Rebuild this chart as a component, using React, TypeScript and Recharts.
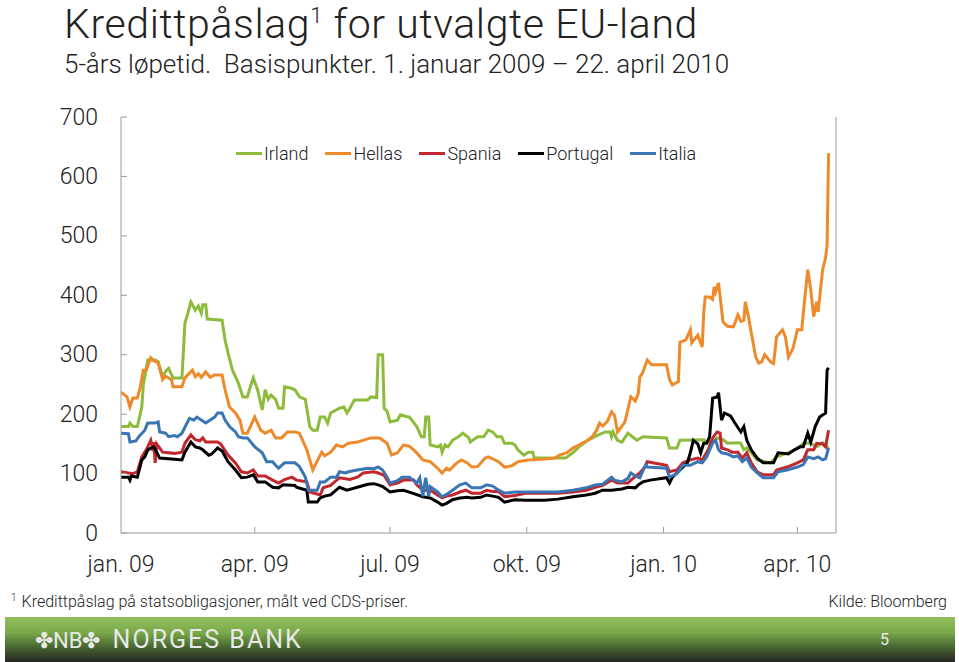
import React from 'react';
import { LineChart, Line, XAxis, YAxis } from 'recharts';

// x = days since 1 Jan 2009, y = basis points
const irland: [number, number][] = [
  [0, 179], [5, 179], [6, 185], [8, 179], [11, 179], [14, 212], [15, 249], [18, 291], [23, 291], [25, 288],
  [28, 263], [30, 272], [32, 277], [35, 261], [41, 261], [43, 353], [45, 370], [47, 389], [50, 375], [52, 382],
  [54, 370], [55, 384], [57, 384], [58, 360], [68, 358], [70, 325], [72, 303], [75, 274], [79, 252], [82, 229],
  [85, 229], [87, 246], [89, 261], [92, 240], [95, 207], [97, 241], [99, 225], [101, 232], [104, 225], [106, 210],
  [109, 210], [110, 246], [114, 244], [117, 241], [120, 229], [124, 225], [127, 179], [129, 173], [132, 173], [134, 195],
  [137, 195], [139, 185], [141, 202], [147, 210], [150, 212], [152, 202], [154, 210], [157, 224], [166, 224], [168, 229],
  [172, 228], [173, 300], [176, 300], [177, 210], [179, 205], [181, 187], [186, 190], [188, 199], [192, 196], [194, 195],
  [199, 179], [202, 162], [204, 162], [205, 195], [207, 195], [208, 148], [213, 145], [215, 148], [216, 136], [218, 148],
  [220, 145], [223, 156], [227, 162], [230, 168], [234, 160], [235, 153], [236, 155], [240, 162], [244, 162], [247, 173],
  [250, 170], [253, 162], [256, 162], [258, 151], [263, 151], [265, 148], [267, 140], [271, 131], [274, 136], [277, 136],
  [278, 126], [299, 126], [304, 135], [308, 145], [314, 156], [321, 165], [326, 170], [329, 170], [330, 162], [331, 170],
  [334, 156], [337, 153], [341, 168], [344, 162], [347, 156], [351, 162], [367, 160], [369, 143], [374, 143], [376, 156],
  [392, 157], [394, 153], [398, 153], [401, 160], [405, 157], [408, 151], [415, 152], [417, 151], [419, 140], [421, 143],
  [424, 135], [428, 123], [437, 118], [441, 128], [450, 136], [455, 142], [459, 151], [464, 151], [468, 145], [472, 152],
  [476, 143],
];

const hellas: [number, number][] = [
  [0, 237], [4, 229], [6, 212], [8, 227], [11, 227], [13, 246], [15, 274], [17, 274], [20, 295], [22, 290],
  [25, 286], [28, 258], [30, 264], [34, 258], [35, 246], [41, 246], [43, 261], [48, 274], [50, 263], [52, 268],
  [54, 262], [57, 271], [60, 262], [63, 266], [68, 266], [70, 241], [73, 212], [77, 202], [80, 190], [82, 168],
  [85, 168], [90, 195], [94, 173], [97, 168], [101, 173], [104, 160], [108, 160], [112, 170], [117, 170], [120, 168],
  [125, 140], [129, 106], [133, 126], [135, 136], [137, 130], [141, 136], [145, 148], [149, 145], [153, 151], [159, 153],
  [168, 160], [174, 160], [179, 151], [182, 131], [186, 135], [190, 148], [194, 146], [199, 135], [203, 123], [208, 120],
  [213, 109], [216, 101], [219, 109], [221, 106], [226, 118], [229, 123], [233, 118], [236, 111], [240, 112], [245, 126],
  [247, 128], [249, 126], [254, 120], [258, 111], [263, 113], [267, 120], [274, 123], [283, 124], [292, 126], [295, 131],
  [300, 135], [304, 143], [308, 148], [314, 156], [317, 162], [320, 173], [322, 185], [324, 180], [327, 187], [330, 204],
  [332, 198], [334, 170], [337, 180], [339, 187], [343, 229], [346, 222], [348, 235], [349, 262], [351, 270], [354, 291],
  [357, 283], [367, 283], [369, 258], [371, 249], [375, 255], [376, 321], [380, 325], [383, 342], [384, 320], [388, 333],
  [391, 313], [392, 370], [393, 397], [396, 397], [398, 393], [399, 414], [400, 405], [402, 421], [405, 355], [408, 348],
  [412, 347], [415, 367], [417, 356], [419, 358], [420, 389], [422, 365], [424, 337], [427, 296], [429, 286], [431, 288],
  [433, 300], [435, 294], [437, 288], [439, 285], [441, 330], [445, 342], [447, 330], [449, 296], [452, 310], [455, 342],
  [458, 342], [459, 370], [462, 443], [464, 410], [466, 364], [468, 389], [469, 372], [472, 443], [474, 463], [475, 484],
  [476, 639],
];

const spania: [number, number][] = [
  [0, 103], [5, 101], [8, 100], [11, 103], [14, 128], [17, 140], [20, 156], [21, 145], [22, 153], [23, 118],
  [24, 150], [28, 136], [36, 134], [41, 136], [43, 151], [47, 165], [50, 157], [53, 155], [55, 160], [57, 153],
  [61, 153], [65, 153], [67, 150], [72, 131], [77, 118], [81, 103], [85, 101], [89, 106], [92, 96], [97, 96],
  [102, 89], [106, 84], [110, 90], [115, 94], [118, 89], [125, 86], [127, 69], [134, 64], [136, 76], [141, 80],
  [147, 93], [154, 90], [159, 94], [163, 101], [170, 103], [173, 101], [177, 97], [181, 81], [186, 84], [190, 89],
  [197, 89], [199, 81], [203, 72], [208, 72], [213, 64], [216, 59], [219, 62], [223, 64], [228, 69], [232, 72],
  [236, 67], [242, 67], [246, 72], [250, 70], [254, 70], [258, 61], [265, 63], [272, 67], [294, 67], [304, 69],
  [313, 72], [319, 77], [324, 80], [330, 89], [334, 84], [341, 84], [343, 89], [349, 101], [353, 113], [354, 120],
  [367, 114], [369, 103], [374, 106], [378, 118], [383, 123], [388, 126], [391, 123], [395, 140], [398, 160], [401, 170],
  [403, 168], [404, 143], [408, 140], [411, 136], [415, 136], [418, 126], [421, 135], [424, 118], [428, 103], [432, 98],
  [439, 98], [441, 106], [448, 111], [455, 118], [459, 123], [462, 140], [466, 140], [468, 151], [472, 150], [474, 145],
  [476, 173],
];

const portugal: [number, number][] = [
  [0, 94], [5, 94], [6, 89], [7, 96], [11, 94], [14, 123], [16, 128], [18, 140], [22, 145], [24, 136],
  [26, 126], [36, 124], [41, 123], [43, 136], [47, 153], [50, 145], [53, 143], [55, 140], [59, 131], [61, 133],
  [65, 143], [68, 138], [72, 120], [77, 106], [81, 93], [85, 94], [89, 98], [92, 86], [97, 86], [102, 77],
  [106, 76], [109, 81], [117, 80], [118, 77], [125, 72], [126, 52], [132, 52], [134, 59], [137, 62], [141, 64],
  [147, 77], [152, 72], [159, 77], [166, 82], [170, 83], [173, 81], [176, 78], [181, 69], [186, 71], [190, 72],
  [196, 67], [203, 61], [208, 59], [213, 52], [216, 47], [219, 50], [223, 56], [228, 59], [233, 60], [236, 59],
  [242, 60], [246, 64], [250, 62], [254, 60], [258, 52], [265, 56], [272, 55], [285, 55], [294, 57], [304, 61],
  [313, 64], [319, 67], [324, 72], [330, 72], [337, 74], [341, 77], [346, 76], [348, 81], [351, 86], [356, 89],
  [367, 93], [369, 84], [371, 94], [376, 106], [381, 118], [383, 135], [385, 156], [388, 150], [390, 135], [392, 151],
  [394, 151], [396, 162], [398, 227], [401, 229], [402, 236], [404, 190], [406, 202], [410, 197], [413, 185], [417, 170],
  [419, 179], [421, 156], [424, 140], [428, 126], [432, 118], [439, 118], [442, 135], [446, 134], [449, 133], [453, 140],
  [457, 145], [459, 145], [462, 168], [464, 153], [467, 179], [470, 195], [474, 202], [475, 274], [476, 278],
];

const italia: [number, number][] = [
  [0, 168], [5, 167], [6, 153], [10, 155], [12, 162], [16, 173], [18, 185], [23, 185], [25, 187], [26, 170],
  [30, 168], [32, 162], [36, 164], [38, 162], [41, 168], [43, 178], [46, 193], [49, 190], [51, 195], [54, 190],
  [57, 185], [60, 190], [63, 195], [65, 202], [68, 202], [70, 190], [73, 179], [77, 170], [79, 162], [82, 160],
  [85, 160], [90, 145], [95, 135], [98, 120], [102, 120], [104, 114], [106, 109], [110, 118], [117, 118], [120, 112],
  [124, 94], [126, 72], [132, 72], [134, 86], [137, 86], [141, 94], [145, 94], [147, 103], [151, 101], [153, 103],
  [159, 106], [166, 109], [170, 108], [173, 111], [176, 106], [179, 94], [181, 84], [186, 88], [189, 94], [194, 94],
  [199, 84], [201, 93], [203, 62], [205, 93], [207, 62], [208, 78], [213, 69], [216, 61], [219, 65], [223, 72],
  [228, 81], [232, 84], [236, 76], [242, 76], [246, 81], [250, 79], [254, 72], [258, 67], [265, 69], [272, 69],
  [294, 69], [304, 72], [313, 76], [319, 81], [324, 82], [330, 94], [332, 89], [337, 86], [341, 92], [343, 101],
  [346, 96], [349, 93], [353, 115], [354, 111], [367, 109], [369, 94], [374, 100], [378, 114], [383, 114], [388, 120],
  [391, 118], [394, 128], [398, 151], [400, 156], [402, 140], [404, 135], [408, 133], [412, 128], [415, 130], [418, 120],
  [421, 126], [424, 111], [428, 101], [432, 93], [439, 93], [442, 103], [448, 106], [455, 111], [459, 115], [462, 128],
  [466, 125], [469, 128], [472, 123], [474, 125], [476, 143],
];

const seriesNames = ['Irland', 'Hellas', 'Spania', 'Portugal', 'Italia'];
const seriesColors = ['#8dbb3c', '#ee8a2a', '#c1272d', '#000000', '#3a76b4'];
const seriesValues = [irland, hellas, spania, portugal, italia];

const dayTicks = [0, 90, 181, 273, 365, 455];
const dayLabels = ['jan. 09', 'apr. 09', 'jul. 09', 'okt. 09', 'jan. 10', 'apr. 10'];
const valueTicks = [0, 100, 200, 300, 400, 500, 600, 700];

const FONT = "Roboto, 'Liberation Sans', Arial, sans-serif";
const AXIS = '#9a9a9a';
const TEXT = '#222';
const TICK_FONT = 23;

const toRows = (pts: [number, number][]) => pts.map(([d, v]) => ({ d, v }));

function LeftTick(props: any) {
  const { x, y, payload } = props;
  return (
    <g>
      <line x1={x} x2={x + 6} y1={y} y2={y} stroke={AXIS} strokeWidth={1} />
      <text x={x - 23} y={y} textAnchor="end" dominantBaseline="central" fontSize={TICK_FONT} fontWeight={300} fill={TEXT} fontFamily={FONT}>
        {payload.value}
      </text>
    </g>
  );
}

function RightTick(props: any) {
  const { x, y, payload } = props;
  return (
    <g>
      <line x1={x} x2={x - 6} y1={y} y2={y} stroke={AXIS} strokeWidth={1} />
      <text x={x + 22} y={y} textAnchor="start" dominantBaseline="central" fontSize={TICK_FONT} fontWeight={300} fill={TEXT} fontFamily={FONT}>
        {payload.value}
      </text>
    </g>
  );
}

function BottomTick(props: any) {
  const { x, y, payload, index } = props;
  return (
    <g>
      {index > 0 && <line x1={x} x2={x} y1={y} y2={y - 6} stroke={AXIS} strokeWidth={1} />}
      <text x={x} y={y + 31} textAnchor="middle" dominantBaseline="central" fontSize={TICK_FONT} fontWeight={300} fill={TEXT} fontFamily={FONT}>
        {dayLabels[dayTicks.indexOf(payload.value)]}
      </text>
    </g>
  );
}

export default function App() {
  return (
    <div style={{ position: 'absolute', left: 0, top: 0, width: 959, height: 662, background: '#fff', fontFamily: FONT, color: TEXT, overflow: 'hidden' }}>
      <div style={{ position: 'absolute', left: 64, top: 0, fontSize: 41, lineHeight: '48px', letterSpacing: 0.6, fontWeight: 300, whiteSpace: 'nowrap' }}>
        Kredittpåslag<span style={{ fontSize: 22, position: 'relative', top: -15 }}>1</span> for utvalgte EU-land
      </div>
      <div style={{ position: 'absolute', left: 64, top: 49, fontSize: 26, lineHeight: '30px', fontWeight: 300, whiteSpace: 'pre' }}>
        {'5-års løpetid.  Basispunkter. 1. januar 2009 – 22. april 2010'}
      </div>

      <div style={{ position: 'absolute', left: 0, top: 0 }}>
        <LineChart width={959} height={662} margin={{ top: 117, right: 63, bottom: 89, left: 61 }}>
          <XAxis
            dataKey="d"
            type="number"
            domain={[0, 481]}
            ticks={dayTicks}
            interval={0}
            allowDataOverflow
            stroke={AXIS}
            tickLine={false}
            tickSize={0}
            tickMargin={0}
            height={40}
            tick={<BottomTick />}
          />
          <YAxis
            yAxisId="l"
            orientation="left"
            domain={[0, 700]}
            ticks={valueTicks}
            interval={0}
            stroke={AXIS}
            tickLine={false}
            tickSize={0}
            tickMargin={0}
            width={60}
            tick={<LeftTick />}
          />
          <YAxis
            yAxisId="r"
            orientation="right"
            domain={[0, 700]}
            ticks={valueTicks}
            interval={0}
            stroke={AXIS}
            tickLine={false}
            tickSize={0}
            tickMargin={0}
            width={60}
            tick={<RightTick />}
          />
          {seriesValues.map((pts, i) => (
            <Line
              key={seriesNames[i]}
              yAxisId="l"
              data={toRows(pts)}
              dataKey="v"
              name={seriesNames[i]}
              type="linear"
              stroke={seriesColors[i]}
              strokeWidth={3}
              dot={false}
              isAnimationActive={false}
            />
          ))}
        </LineChart>
      </div>

      <div style={{ position: 'absolute', left: 236, top: 143, display: 'flex', alignItems: 'center', fontSize: 18, fontWeight: 300, whiteSpace: 'nowrap' }}>
        {seriesNames.map((n, i) => (
          <div key={n} style={{ display: 'flex', alignItems: 'center', marginRight: 17 }}>
            <div style={{ width: 26, height: 3, background: seriesColors[i], marginRight: 2 }} />
            <span>{n}</span>
          </div>
        ))}
      </div>

      <div style={{ position: 'absolute', left: 11, top: 592, fontSize: 16, fontWeight: 300, whiteSpace: 'nowrap' }}>
        <sup style={{ fontSize: 10, marginRight: 5 }}>1</sup>Kredittpåslag på statsobligasjoner, målt ved CDS-priser.
      </div>
      <div style={{ position: 'absolute', right: 12, top: 592, fontSize: 16, fontWeight: 300, whiteSpace: 'nowrap' }}>
        Kilde: Bloomberg
      </div>

      <div
        style={{
          position: 'absolute',
          left: 5,
          top: 617,
          width: 950,
          height: 45,
          background: 'linear-gradient(to bottom, #93c25c 0%, #7aa84a 35%, #4a6a32 65%, #262626 100%)',
        }}
      >
        <div style={{ position: 'absolute', left: 30, top: 8, fontSize: 25, color: '#e8e8e8', letterSpacing: 2, whiteSpace: 'nowrap', fontWeight: 400 }}>
          <span style={{ fontSize: 22, letterSpacing: 0, marginRight: 4 }}>✤NB✤</span> NORGES BANK
        </div>
        <div style={{ position: 'absolute', left: 875, top: 13, fontSize: 16, color: '#e8e8e8' }}>5</div>
      </div>
    </div>
  );
}
